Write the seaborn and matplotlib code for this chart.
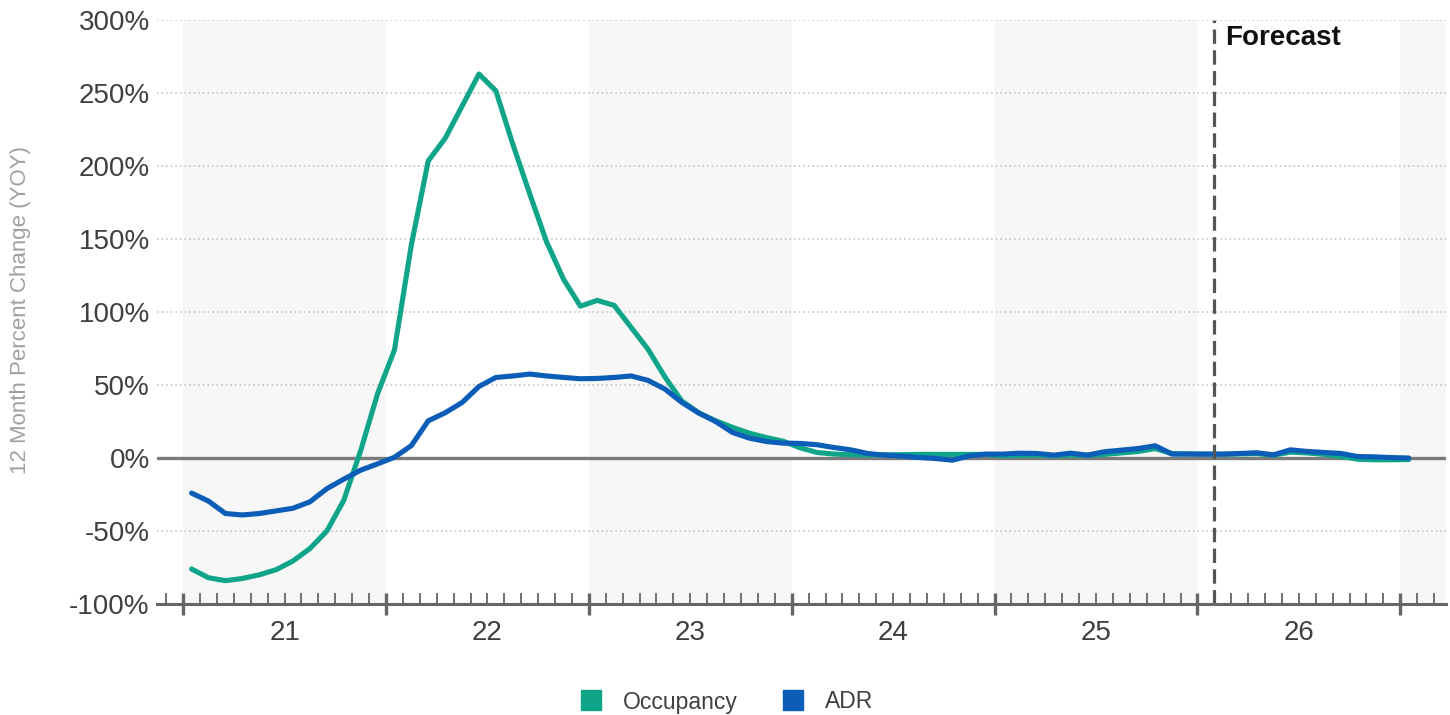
import numpy as np
import pandas as pd
import matplotlib
matplotlib.use("Agg")
import matplotlib.pyplot as plt
from matplotlib.lines import Line2D
from matplotlib.transforms import blended_transform_factory
import seaborn as sns

# Monthly series, Jan 2021 .. Jan 2027 (year-over-year % change)
occupancy = [
    -76, -82, -84, -82.5, -80, -76.5, -70.5, -62, -50, -29, 5, 44,
    74, 146, 203.5, 219, 241, 263, 251.5, 215, 181, 148, 122.5, 104,
    108, 104.5, 89.5, 74.5, 55.5, 39, 31, 25.5, 21, 17, 14, 11.5,
    7, 3.8, 2.7, 2.3, 2.2, 2.2, 2.3, 2.5, 2.5, 2.5, 2.5, 2.5,
    1.5, 1.8, 2.0, 1.5, 2.0, 1.8, 2.5, 3.5, 4.5, 6.5, 3.0, 2.8,
    2.6, 2.5, 2.8, 3.0, 2.0, 4.0, 3.5, 2.5, 1.0, -0.8, -1.2, -1.2,
    -1.0,
]
adr = [
    -24, -29.5, -38, -39, -38, -36.2, -34.4, -30, -21, -14.5, -8.3, -4,
    0.5, 8.5, 25.5, 31, 38, 49, 55.2, 56.2, 57.5, 56.2, 55.2, 54.3,
    54.5, 55.2, 56.2, 53.2, 47.2, 38.1, 30.8, 25, 17.5, 13.6, 11.3, 10.2,
    10, 9.1, 7.2, 5.6, 3.1, 2.0, 1.3, 0.4, -0.3, -1.5, 1.5, 2.7,
    2.7, 3.3, 3.1, 2.0, 3.3, 2.0, 4.3, 5.4, 6.5, 8.4, 2.7, 2.7,
    2.7, 2.7, 3.1, 3.6, 2.2, 5.6, 4.5, 3.8, 3.1, 1.0, 0.8, 0.3,
    0.0,
]
series_names = ["Occupancy", "ADR"]
series_colors = ["#10a589", "#0b5db8"]
year_labels = ["21", "22", "23", "24", "25", "26"]
y_ticks = [-100, -50, 0, 50, 100, 150, 200, 250, 300]
forecast_start = 61  # month index of Feb 2026

# month index at mid-month
months = np.arange(len(occupancy)) + 0.5
df = pd.DataFrame({
    "month": np.concatenate([months, months]),
    "value": occupancy + adr,
    "series": [series_names[0]] * len(occupancy) + [series_names[1]] * len(adr),
})

sns.set_style("white")
plt.rcParams["font.family"] = ["Liberation Sans", "DejaVu Sans"]

fig = plt.figure(figsize=(14.5, 7.15), dpi=100)
ax = fig.add_axes([0.108, 0.1552, 0.8892, 0.8168])

x_min, x_max = -1.57, 74.7
ax.set_xlim(x_min, x_max)
ax.set_ylim(-100, 300)

# alternating year bands
for start in range(0, 84, 24):
    ax.axvspan(start, min(start + 12, x_max), color="#f7f7f7", lw=0, zorder=0)

# dotted grid
for v in y_ticks:
    if v in (0, -100):
        continue
    ax.axhline(v, color="#bdbdbd", lw=1.1, ls=(0, (1, 2)), zorder=0.5)
ax.axhline(0, color="#7a7a7a", lw=2.4, zorder=1)

sns.lineplot(data=df, x="month", y="value", hue="series", hue_order=series_names,
             palette=series_colors, linewidth=3.7, legend=False, ax=ax,
             solid_capstyle="round", solid_joinstyle="round", zorder=3)

# forecast divider
ax.axvline(forecast_start, color="#555555", lw=2.3, ls=(0, (4.5, 2)), zorder=4)
ax.annotate("Forecast", xy=(forecast_start, 288), xytext=(8, 0),
            textcoords="offset points", ha="left", va="center",
            fontsize=20, fontweight="bold", color="#111111")

# axes styling
for side in ("top", "right", "left"):
    ax.spines[side].set_visible(False)
ax.spines["bottom"].set_color("#666666")
ax.spines["bottom"].set_linewidth(2.2)
ax.spines["bottom"].set_zorder(5)

ax.set_xticks(np.arange(0, 73, 12))
ax.set_xticks(np.arange(-1, 75, 1), minor=True)
ax.tick_params(axis="x", which="both", bottom=True)
ax.tick_params(axis="x", which="major", direction="inout", length=16, width=2.4,
               color="#666666", labelbottom=False)
ax.tick_params(axis="x", which="minor", direction="in", length=8, width=1.3,
               color="#666666")

ax.set_yticks(y_ticks)
ax.set_yticklabels([f"{v}%" for v in y_ticks])
ax.tick_params(axis="y", length=0, pad=5, labelsize=20, labelcolor="#3f3f3f")
ax.set_xlabel("")
ax.set_ylabel("")

trans = blended_transform_factory(ax.transData, ax.transAxes)
for k, lab in enumerate(year_labels):
    ax.text(6 + 12 * k, -0.05, lab, transform=trans, ha="center", va="center",
            fontsize=20, color="#3f3f3f")

fig.text(0.0138, 1 - 310 / 715, "12 Month Percent Change (YOY)", rotation=90,
         ha="center", va="center", fontsize=16, color="#a0a0a0")

handles = [Line2D([], [], marker="s", ls="none", markersize=14.4,
                  markerfacecolor=c, markeredgecolor=c) for c in series_colors]
fig.legend(handles, series_names, loc="center", bbox_to_anchor=(0.501, 1 - 702 / 715),
           ncol=2, frameon=False, fontsize=16.5, labelcolor="#3f3f3f",
           handlelength=1.0, handletextpad=0.9, columnspacing=1.9)

fig.savefig("out.png", dpi=100)
